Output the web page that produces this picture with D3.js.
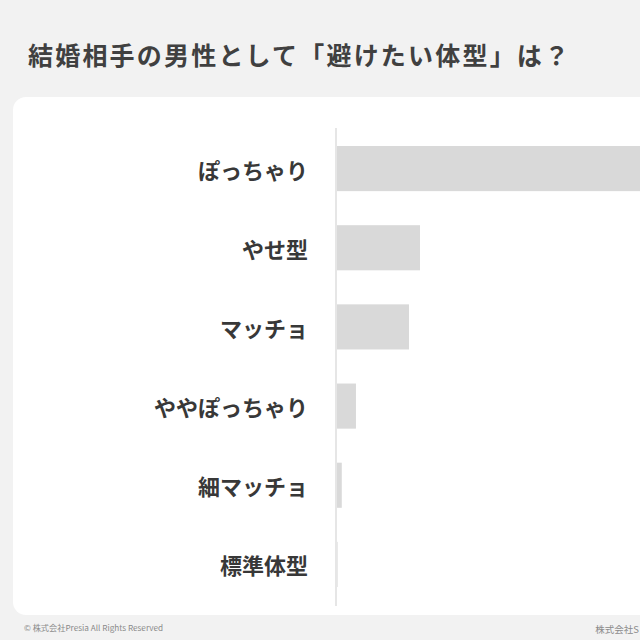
<!DOCTYPE html>
<html><head><meta charset="utf-8">
<script src="https://cdn.jsdelivr.net/npm/d3@7"></script>
<style>
html,body{margin:0;padding:0;background:#f2f2f2;}
svg{display:block;font-family:"Noto Sans CJK JP","Noto Sans",sans-serif;}
</style></head>
<body><svg id="c" width="640" height="640"></svg>
<script>
const title = "結婚相手の男性として「避けたい体型」は？";
const categories = ["ぽっちゃり","やせ型","マッチョ","ややぽっちゃり","細マッチョ","標準体型"];
const values = [64.9, 16.0, 13.9, 3.8, 1.1, 0.3];
const footerLeft = "© 株式会社Presia All Rights Reserved";
const footerRight = "株式会社S";

const svg = d3.select("#c");
svg.append("rect").attr("width",640).attr("height",640).attr("fill","#f2f2f2");
svg.append("text").attr("x",28).attr("y",54).attr("dominant-baseline","central")
  .attr("font-size",25).attr("letter-spacing",2.2).attr("font-weight",700).attr("fill","#404040").text(title);
svg.append("rect").attr("x",13).attr("y",97).attr("width",660).attr("height",518)
  .attr("rx",13).attr("fill","#ffffff");

const y = d3.scaleBand().domain(categories).range([129,604]).paddingInner(0.43).paddingOuter(0.215);
const x = d3.scaleLinear().domain([0,100]).range([336,861]);

svg.append("g").selectAll("rect").data(categories).join("rect")
  .attr("x",x(0)).attr("y",d=>y(d)).attr("height",y.bandwidth())
  .attr("width",(d,i)=>x(values[i])-x(0)).attr("fill","#d9d9d9");

svg.append("line").attr("x1",x(0)).attr("x2",x(0)).attr("y1",128).attr("y2",606)
  .attr("stroke","#e6e6e6").attr("stroke-width",2);

svg.append("g").selectAll("text").data(categories).join("text")
  .attr("x",308).attr("y",d=>y(d)+y.bandwidth()/2).attr("text-anchor","end")
  .attr("dominant-baseline","central").attr("font-size",22).attr("font-weight",700)
  .attr("fill","#383838").text(d=>d);

svg.append("text").attr("x",24).attr("y",627).attr("dominant-baseline","central")
  .attr("font-size",8.2).attr("fill","#8a8a8a").text(footerLeft);
svg.append("text").attr("x",639).attr("y",629).attr("text-anchor","end").attr("dominant-baseline","central")
  .attr("font-size",9.5).attr("fill","#8a8a8a").text(footerRight);
</script></body></html>
